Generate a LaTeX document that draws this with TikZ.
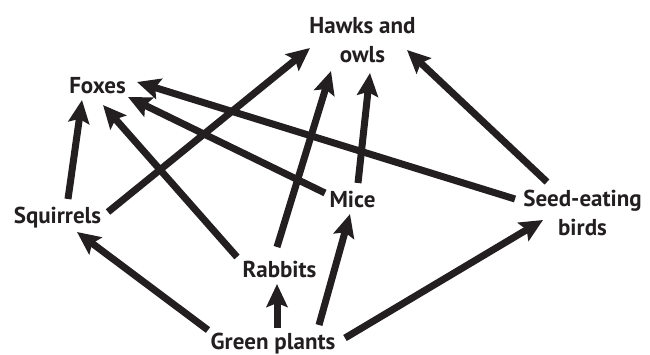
\documentclass[tikz,border=0pt]{standalone}
\usepackage{fontspec}
\setmainfont{PT Sans}
\usetikzlibrary{arrows.meta}
\definecolor{ink}{RGB}{35,31,32}

\begin{document}
\begin{tikzpicture}[x=1pt,y=-1pt,
    lbl/.style={inner sep=0pt,anchor=base,align=center,text=ink,
      font=\fontsize{23}{29}\selectfont\bfseries},
    eats/.style={draw=ink,line width=7pt,
      -{Stealth[length=23pt,width=21pt,inset=4pt]}}]
  \useasboundingbox (0,0) rectangle (650,354);
  % who eats whom
  \node[lbl] (hawk) at (362.5,62) {Hawks and\\owls};
  \node[lbl] (fox) at (97.5,93) {Foxes};
  \node[lbl] (sq) at (57.5,223) {Squirrels};
  \node[lbl] (mice) at (352.5,207) {Mice};
  \node[lbl] (bird) at (582.5,235) {Seed-eating\\birds};
  \node[lbl] (rab) at (279.5,277) {Rabbits};
  \node[lbl] (pl) at (273,349) {Green plants};
  % arrows point from food to eater
  \draw[eats] ([shift={(10.5,-24)}]sq.base) -- ([shift={(-15.5,7)}]fox.base);
  \draw[eats] ([shift={(50.5,-11)}]sq.base) -- ([shift={(-52.5,-14)}]hawk.base);
  \draw[eats] ([shift={(-42.5,-20)}]rab.base) -- ([shift={(5.5,12)}]fox.base);
  \draw[eats] ([shift={(-27.5,-14)}]mice.base) -- ([shift={(30.5,4)}]fox.base);
  \draw[eats] ([shift={(-67.5,-36)}]bird.base) -- ([shift={(39.5,-11)}]fox.base);
  \draw[eats] ([shift={(-2.5,-30)}]rab.base) -- ([shift={(-31.5,9)}]hawk.base);
  \draw[eats] ([shift={(5.5,-24)}]mice.base) -- ([shift={(7.5,11)}]hawk.base);
  \draw[eats] ([shift={(-35.5,-53)}]bird.base) -- ([shift={(44.5,-12)}]hawk.base);
  \draw[eats] ([shift={(-65,-19)}]pl.base) -- ([shift={(19.5,9)}]sq.base);
  \draw[eats] ([shift={(4,-21)}]pl.base) -- ([shift={(-2.5,7)}]rab.base);
  \draw[eats] ([shift={(46,-24)}]pl.base) -- ([shift={(-2.5,7)}]mice.base);
  \draw[eats] ([shift={(72,-11)}]pl.base) -- ([shift={(-39.5,-15)}]bird.base);
\end{tikzpicture}
\end{document}
